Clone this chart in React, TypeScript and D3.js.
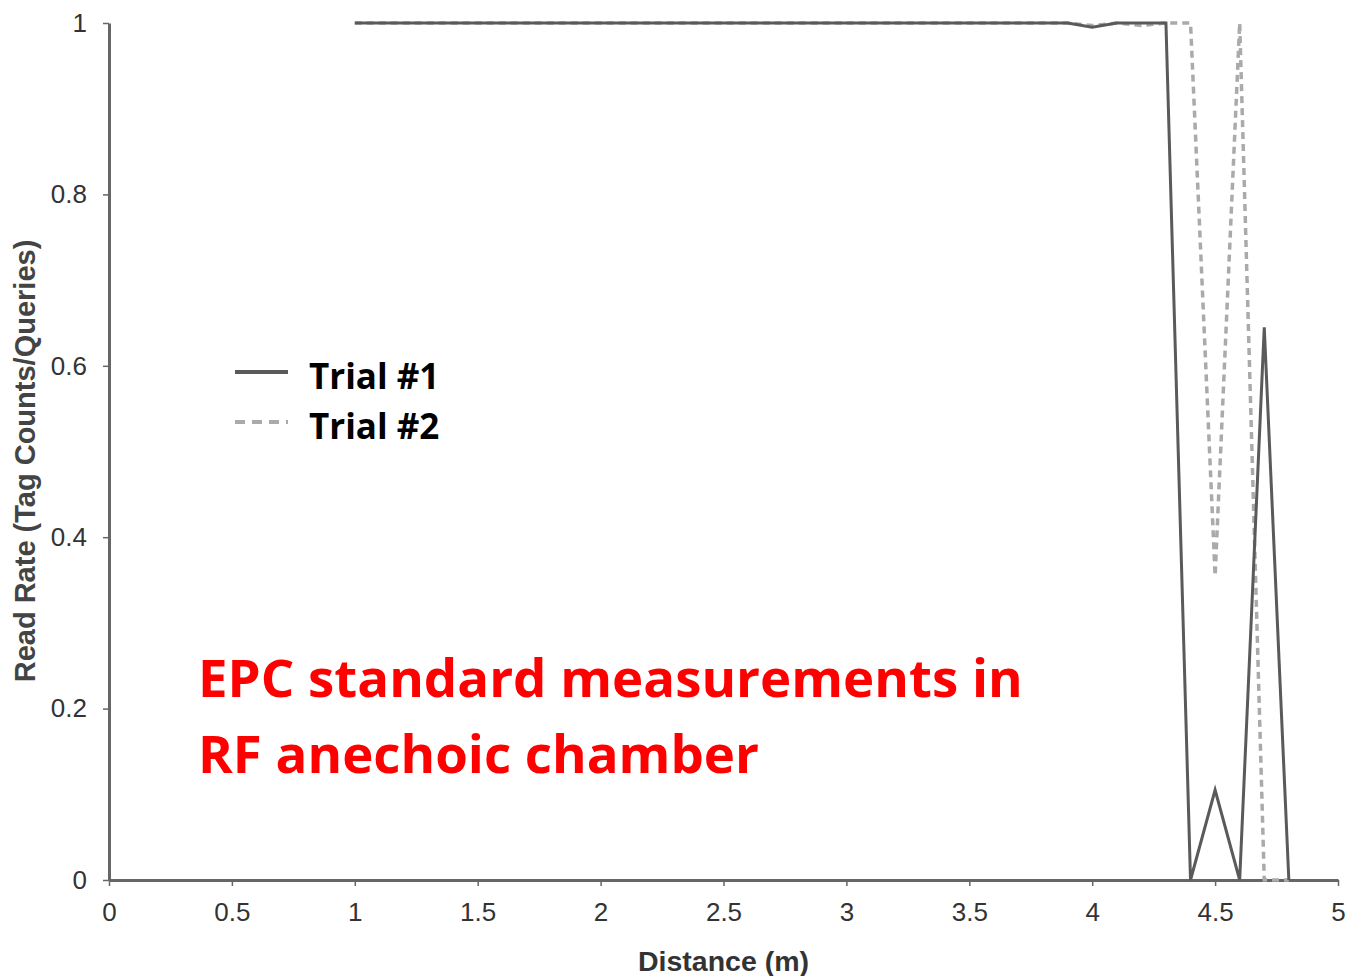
import { useEffect, useRef } from 'react'
import * as d3 from 'd3'

// distance (m) sampled every 0.1 from 1.0 to 4.8
const distances = [
    1.0, 1.1, 1.2, 1.3, 1.4, 1.5, 1.6, 1.7, 1.8, 1.9,
    2.0, 2.1, 2.2, 2.3, 2.4, 2.5, 2.6, 2.7, 2.8, 2.9,
    3.0, 3.1, 3.2, 3.3, 3.4, 3.5, 3.6, 3.7, 3.8, 3.9,
    4.0, 4.1, 4.2, 4.3, 4.4, 4.5, 4.6, 4.7, 4.8
]
const trial1 = [
    1, 1, 1, 1, 1, 1, 1, 1, 1, 1,
    1, 1, 1, 1, 1, 1, 1, 1, 1, 1,
    1, 1, 1, 1, 1, 1, 1, 1, 1, 1,
    0.995, 1, 1, 1, 0, 0.105, 0, 0.645, 0
]
const trial2 = [
    1, 1, 1, 1, 1, 1, 1, 1, 1, 1,
    1, 1, 1, 1, 1, 1, 1, 1, 1, 1,
    1, 1, 1, 1, 1, 1, 1, 1, 1, 1,
    0.997, 1, 0.997, 1, 1, 0.355, 1, 0, 0
]
const xTicks = [0, 0.5, 1, 1.5, 2, 2.5, 3, 3.5, 4, 4.5, 5]
const yTicks = [0, 0.2, 0.4, 0.6, 0.8, 1]
const seriesNames = ['Trial #1', 'Trial #2']

export default function App() {
    const ref = useRef<SVGSVGElement>(null)

    useEffect(() => {
        document.body.style.margin = '0'
        const svg = d3.select(ref.current)
        svg.selectAll('*').remove()

        const x = d3.scaleLinear().domain([0, 5]).range([109, 1338])
        const y = d3.scaleLinear().domain([0, 1]).range([880, 23])
        const axisColor = '#666'
        const labelFont = '"Liberation Sans", Arial, sans-serif'

        const xAxis = svg.append('g')
            .attr('transform', `translate(0, ${y(0)})`)
            .call(d3.axisBottom(x).tickValues(xTicks).tickFormat(d3.format('~g')).tickSize(6).tickSizeOuter(0).tickPadding(17))
        const yAxis = svg.append('g')
            .attr('transform', `translate(${x(0)}, 0)`)
            .call(d3.axisLeft(y).tickValues(yTicks).tickFormat(d3.format('~g')).tickSize(6).tickSizeOuter(0).tickPadding(16))

        for (const ax of [xAxis, yAxis]) {
            ax.select('.domain').attr('stroke', axisColor).attr('stroke-width', 3)
            ax.selectAll('.tick line').attr('stroke', axisColor).attr('stroke-width', 1.5)
            ax.selectAll('.tick text')
                .attr('fill', '#333')
                .style('font-family', labelFont)
                .style('font-size', '26px')
        }

        const line = (vals: number[]) => d3.line<number>()
            .x((_, i) => x(distances[i]))
            .y(d => y(d))(vals)

        svg.append('path')
            .attr('d', line(trial2))
            .attr('fill', 'none')
            .attr('stroke', '#aaa')
            .attr('stroke-width', 3.5)
            .attr('stroke-dasharray', '7,5')
        svg.append('path')
            .attr('d', line(trial1))
            .attr('fill', 'none')
            .attr('stroke', '#5a5a5a')
            .attr('stroke-width', 3)

        // axis titles
        svg.append('text')
            .attr('x', x(2.5))
            .attr('y', 971)
            .attr('text-anchor', 'middle')
            .attr('fill', '#333')
            .style('font-family', labelFont)
            .style('font-weight', 'bold')
            .style('font-size', '28.5px')
            .text('Distance (m)')
        svg.append('text')
            .attr('transform', 'translate(35, 461) rotate(-90)')
            .attr('text-anchor', 'middle')
            .attr('fill', '#444')
            .style('font-family', labelFont)
            .style('font-weight', 'bold')
            .style('font-size', '29px')
            .text('Read Rate (Tag Counts/Queries)')

        // legend
        const legend = svg.append('g')
        seriesNames.forEach((name, i) => {
            const yy = 372 + i * 50
            legend.append('line')
                .attr('x1', 235).attr('x2', 288)
                .attr('y1', yy).attr('y2', yy)
                .attr('stroke', i === 0 ? '#5a5a5a' : '#aaa')
                .attr('stroke-width', 4)
                .attr('stroke-dasharray', i === 0 ? null : '10,7')
            legend.append('text')
                .attr('x', 309)
                .attr('y', yy + 17)
                .attr('fill', '#000')
                .style('font-family', '"Open Sans", sans-serif')
                .style('font-weight', 'bold')
                .style('font-size', '35px')
                .text(name)
        })

        // annotation
        const note = ['EPC standard measurements in', 'RF anechoic chamber']
        note.forEach((t, i) => {
            svg.append('text')
                .attr('x', 198)
                .attr('y', 697 + i * 76)
                .attr('fill', '#ff0000')
                .style('font-family', '"Open Sans", sans-serif')
                .style('font-weight', 'bold')
                .style('font-size', '52.8px')
                .text(t)
        })
    }, [])

    return <svg ref={ref} width={1346} height={976} style={{ display: 'block' }} />
}
